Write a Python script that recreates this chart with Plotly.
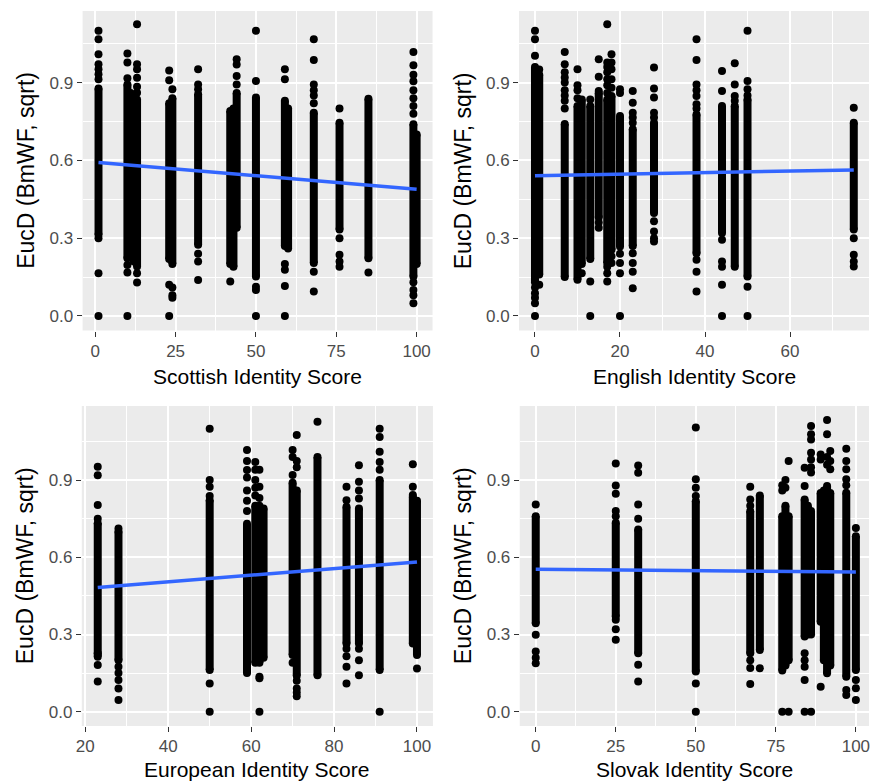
import plotly.graph_objects as go

W, H = 870, 783

# ---------------- Scottish identity ----------------
scot_col_x  = [1, 10, 11, 12, 13, 23, 24, 32, 42, 43, 44, 50, 59, 60, 68, 76, 85, 99, 100]
scot_col_lo = [0.313, 0.223, 0.26, 0.21, 0.191, 0.22, 0.20, 0.275, 0.20, 0.19, 0.34, 0.152, 0.27, 0.26, 0.204, 0.333, 0.223, 0.152, 0.20]
scot_col_hi = [0.877, 0.893, 0.86, 0.85, 0.835, 0.82, 0.84, 0.855, 0.79, 0.80, 0.86, 0.842, 0.83, 0.80, 0.784, 0.745, 0.838, 0.739, 0.70]
scot_pt_x = ([1] * 10 + [10] * 6 + [13] * 8 + [23] * 4 + [24] * 4 + [32] * 6 + [42] + [44] * 4
             + [50] * 5 + [59] * 6 + [68] * 8 + [76] * 5 + [85] + [99] * 12)
scot_pt_y = ([1.10, 1.067, 1.009, 0.971, 0.951, 0.932, 0.913, 0.30, 0.165, 0.0]
             + [1.012, 0.977, 0.917, 0.197, 0.168, 0.0]
             + [1.125, 0.971, 0.951, 0.919, 0.884, 0.861, 0.165, 0.129]
             + [0.947, 0.909, 0.12, 0.0]
             + [0.874, 0.08, 0.07, 0.11]
             + [0.951, 0.893, 0.874, 0.24, 0.21, 0.139]
             + [0.133]
             + [0.99, 0.97, 0.925, 0.893]
             + [1.10, 0.906, 0.113, 0.10, 0.0]
             + [0.951, 0.913, 0.0, 0.116, 0.178, 0.20]
             + [1.067, 0.987, 0.893, 0.87, 0.85, 0.82, 0.171, 0.094]
             + [0.80, 0.30, 0.236, 0.21, 0.19]
             + [0.168]
             + [1.018, 0.967, 0.93, 0.905, 0.87, 0.84, 0.81, 0.78, 0.13, 0.10, 0.08, 0.049])
scot_fit_x = [1, 100]
scot_fit_y = [0.592, 0.489]

# ---------------- English identity ----------------
eng_col_x  = [0, 1, 7, 10, 11, 13, 15, 17, 18, 20, 23, 28, 38, 44, 47, 50, 75]
eng_col_lo = [0.13, 0.16, 0.15, 0.14, 0.20, 0.22, 0.38, 0.204, 0.255, 0.268, 0.27, 0.397, 0.242, 0.32, 0.19, 0.152, 0.333]
eng_col_hi = [0.96, 0.93, 0.74, 0.81, 0.835, 0.81, 0.86, 0.835, 0.848, 0.771, 0.72, 0.745, 0.777, 0.81, 0.81, 0.835, 0.745]
eng_pt_x = ([0] * 8 + [1] * 2 + [7] * 9 + [10] * 4 + [11] + [13] * 3 + [15] * 5 + [17] * 10
            + [18] * 7 + [20] * 6 + [23] * 9 + [28] * 9 + [38] * 10 + [44] * 7 + [47] * 4
            + [50] * 6 + [75] * 5)
eng_pt_y = ([1.10, 1.067, 1.003, 0.11, 0.088, 0.07, 0.049, 0.0]
            + [0.95, 0.12]
            + [1.018, 0.971, 0.94, 0.92, 0.90, 0.87, 0.85, 0.83, 0.80]
            + [0.951, 0.89, 0.87, 0.84]
            + [0.165]
            + [0.835, 0.133, 0.0]
            + [0.99, 0.922, 0.868, 0.36, 0.34]
            + [1.125, 0.977, 0.96, 0.94, 0.913, 0.89, 0.86, 0.19, 0.165, 0.133]
            + [1.009, 0.977, 0.951, 0.913, 0.88, 0.23, 0.204]
            + [0.874, 0.86, 0.24, 0.204, 0.165, 0.0]
            + [0.868, 0.822, 0.784, 0.765, 0.745, 0.242, 0.204, 0.171, 0.107]
            + [0.958, 0.877, 0.842, 0.784, 0.765, 0.365, 0.326, 0.30, 0.287]
            + [1.067, 0.987, 0.893, 0.87, 0.848, 0.816, 0.80, 0.217, 0.171, 0.094]
            + [0.945, 0.868, 0.294, 0.21, 0.19, 0.12, 0.0]
            + [0.975, 0.893, 0.848, 0.83]
            + [1.10, 0.906, 0.874, 0.85, 0.113, 0.0]
            + [0.803, 0.30, 0.236, 0.21, 0.191])
eng_fit_x = [0, 75]
eng_fit_y = [0.541, 0.563]

# ---------------- European identity ----------------
eur_col_x  = [23, 28, 50, 59, 61, 62, 63, 70, 71, 76, 83, 86, 91, 99, 100]
eur_col_lo = [0.214, 0.20, 0.162, 0.15, 0.19, 0.19, 0.21, 0.22, 0.14, 0.142, 0.265, 0.265, 0.162, 0.265, 0.22]
eur_col_hi = [0.732, 0.70, 0.822, 0.73, 0.80, 0.80, 0.79, 0.89, 0.86, 0.99, 0.796, 0.79, 0.90, 0.835, 0.82]
eur_pt_x = ([23] * 7 + [28] * 6 + [50] * 6 + [59] * 7 + [61] * 5 + [62] * 6 + [70] * 4 + [71] * 7
            + [76] + [83] * 6 + [86] * 7 + [91] * 6 + [99] * 3 + [100])
eur_pt_y = ([0.952, 0.919, 0.803, 0.75, 0.227, 0.181, 0.117]
            + [0.712, 0.175, 0.15, 0.123, 0.09, 0.045]
            + [1.10, 0.90, 0.874, 0.838, 0.11, 0.0]
            + [1.017, 0.974, 0.939, 0.91, 0.86, 0.82, 0.78]
            + [0.97, 0.94, 0.90, 0.87, 0.84]
            + [0.94, 0.874, 0.83, 0.136, 0.13, 0.0]
            + [1.017, 0.99, 0.92, 0.19]
            + [1.075, 0.974, 0.95, 0.12, 0.09, 0.075, 0.06]
            + [1.127]
            + [0.874, 0.822, 0.245, 0.215, 0.175, 0.11]
            + [0.958, 0.894, 0.86, 0.829, 0.245, 0.20, 0.142]
            + [1.10, 1.068, 1.01, 0.97, 0.94, 0.0]
            + [0.962, 0.874, 0.842]
            + [0.168])
eur_fit_x = [23, 100]
eur_fit_y = [0.483, 0.582]

# ---------------- Slovak identity ----------------
svk_col_x  = [0, 25, 32, 50, 67, 70, 77, 78, 79, 84, 85, 86, 89, 90, 91, 92, 97, 100]
svk_col_lo = [0.344, 0.37, 0.227, 0.156, 0.227, 0.24, 0.16, 0.18, 0.20, 0.292, 0.30, 0.30, 0.35, 0.20, 0.149, 0.18, 0.136, 0.162]
svk_col_hi = [0.76, 0.734, 0.708, 0.818, 0.779, 0.84, 0.76, 0.80, 0.76, 0.825, 0.80, 0.78, 0.85, 0.86, 0.877, 0.85, 0.851, 0.682]
svk_pt_x = ([0] * 5 + [25] * 8 + [32] * 6 + [50] * 6 + [67] * 6 + [70] + [77] * 3 + [78] * 2
            + [79] * 2 + [84] * 7 + [86] * 8 + [89] * 3 + [91] * 4 + [92] * 3 + [97] * 7 + [100] * 4)
svk_pt_y = ([0.805, 0.299, 0.234, 0.21, 0.188]
            + [0.965, 0.879, 0.847, 0.78, 0.76, 0.357, 0.32, 0.28]
            + [0.957, 0.929, 0.805, 0.75, 0.182, 0.117]
            + [1.104, 0.903, 0.87, 0.838, 0.11, 0.0]
            + [0.874, 0.825, 0.80, 0.20, 0.17, 0.108]
            + [0.169]
            + [0.88, 0.86, 0.0]
            + [0.90, 0.87]
            + [0.974, 0.0]
            + [0.948, 0.877, 0.227, 0.20, 0.175, 0.123, 0.0]
            + [1.11, 1.078, 1.058, 1.006, 0.98, 0.95, 0.93, 0.0]
            + [1.0, 0.98, 0.097]
            + [1.134, 1.078, 0.99, 0.96]
            + [1.013, 0.974, 0.942]
            + [1.022, 0.974, 0.942, 0.903, 0.88, 0.084, 0.065]
            + [0.714, 0.123, 0.091, 0.045])
svk_fit_x = [0, 100]
svk_fit_y = [0.554, 0.543]

y_title = "EucD (BmWF, sqrt)"
x_titles = ["Scottish Identity Score", "English Identity Score",
            "European Identity Score", "Slovak Identity Score"]

panels = [
    (scot_col_x, scot_col_lo, scot_col_hi, scot_pt_x, scot_pt_y, scot_fit_x, scot_fit_y),
    (eng_col_x, eng_col_lo, eng_col_hi, eng_pt_x, eng_pt_y, eng_fit_x, eng_fit_y),
    (eur_col_x, eur_col_lo, eur_col_hi, eur_pt_x, eur_pt_y, eur_fit_x, eur_fit_y),
    (svk_col_x, svk_col_lo, svk_col_hi, svk_pt_x, svk_pt_y, svk_fit_x, svk_fit_y),
]

# panel boxes in pixels: left, right, top, bottom; axis ranges; major tick step
boxes = [
    dict(l=77.2, r=430.0, t=11.0, b=330.5, xr=[-3.95, 104.95], yr=[-0.056, 1.176], dx=25, x0=0),
    dict(l=517.2, r=870.0, t=11.0, b=330.5, xr=[-3.75, 78.58], yr=[-0.056, 1.176], dx=20, x0=0),
    dict(l=76.4, r=430.4, t=406.0, b=726.0, xr=[19.15, 103.85], yr=[-0.0556, 1.188], dx=20, x0=20),
    dict(l=517.9, r=870.0, t=406.0, b=726.0, xr=[-5.0, 104.1], yr=[-0.0556, 1.188], dx=25, x0=0),
]
PANEL_W = 430.0 - 77.2

FONT = "Liberation Sans, Arial, sans-serif"
fig = go.Figure()

for i, (cx, clo, chi, px, py, fx, fy) in enumerate(panels):
    xa = "x" if i == 0 else f"x{i + 1}"
    ya = "y" if i == 0 else f"y{i + 1}"

    # dense vertical stacks of points drawn as thick segments
    bx, by = [], []
    for x, lo, hi in zip(cx, clo, chi):
        bx += [x, x, None]
        by += [lo, hi, None]
    fig.add_trace(go.Scatter(x=bx, y=by, mode="lines", xaxis=xa, yaxis=ya,
                             line=dict(color="black", width=8), hoverinfo="skip",
                             showlegend=False))
    # individual points, including the ends of each stack
    mx = list(px) + list(cx) + list(cx)
    my = list(py) + list(clo) + list(chi)
    fig.add_trace(go.Scatter(x=mx, y=my, mode="markers", xaxis=xa, yaxis=ya,
                             marker=dict(color="black", size=8, line=dict(width=0)),
                             showlegend=False))
    # linear fit
    fig.add_trace(go.Scatter(x=fx, y=fy, mode="lines", xaxis=xa, yaxis=ya,
                             line=dict(color="#3366FF", width=3.5), showlegend=False))

    bx_ = boxes[i]
    axis_common = dict(showgrid=True, gridcolor="white", gridwidth=2, zeroline=False,
                       showline=False, ticks="outside", ticklen=5, tickwidth=1,
                       tickcolor="#333333", ticklabeloverflow="allow",
                       tickfont=dict(family=FONT, size=17, color="#4D4D4D"))
    key_x = "xaxis" if i == 0 else f"xaxis{i + 1}"
    key_y = "yaxis" if i == 0 else f"yaxis{i + 1}"
    fig.update_layout(**{
        key_x: dict(axis_common, domain=[bx_["l"] / W, bx_["r"] / W], range=bx_["xr"],
                    anchor=ya, tick0=bx_["x0"], dtick=bx_["dx"],
                    minor=dict(tick0=bx_["x0"] + bx_["dx"] / 2, dtick=bx_["dx"],
                               showgrid=True, gridcolor="white", gridwidth=1)),
        key_y: dict(axis_common, domain=[1 - bx_["b"] / H, 1 - bx_["t"] / H], range=bx_["yr"],
                    anchor=xa, tick0=0, dtick=0.3, tickformat=".1f",
                    minor=dict(tick0=0.15, dtick=0.3, showgrid=True,
                               gridcolor="white", gridwidth=1)),
    })

    # x title centred under the panel
    xc = bx_["l"] + PANEL_W / 2
    ty = 376.0 if i < 2 else 769.0
    fig.add_annotation(text=x_titles[i], x=xc / W, y=1 - ty / H, xref="paper", yref="paper",
                       xanchor="center", yanchor="middle", showarrow=False,
                       font=dict(family=FONT, size=21, color="black"))
    # y title
    ytx = bx_["l"] - 57.0
    yty = (bx_["t"] + bx_["b"]) / 2
    fig.add_annotation(text=y_title, x=ytx / W, y=1 - yty / H, xref="paper", yref="paper",
                       xanchor="center", yanchor="middle", showarrow=False, textangle=-90,
                       font=dict(family=FONT, size=23, color="black"))

fig.update_layout(width=W, height=H, margin=dict(l=0, r=0, t=0, b=0),
                  paper_bgcolor="white", plot_bgcolor="#EBEBEB",
                  showlegend=False)

fig.write_html("out.html")
